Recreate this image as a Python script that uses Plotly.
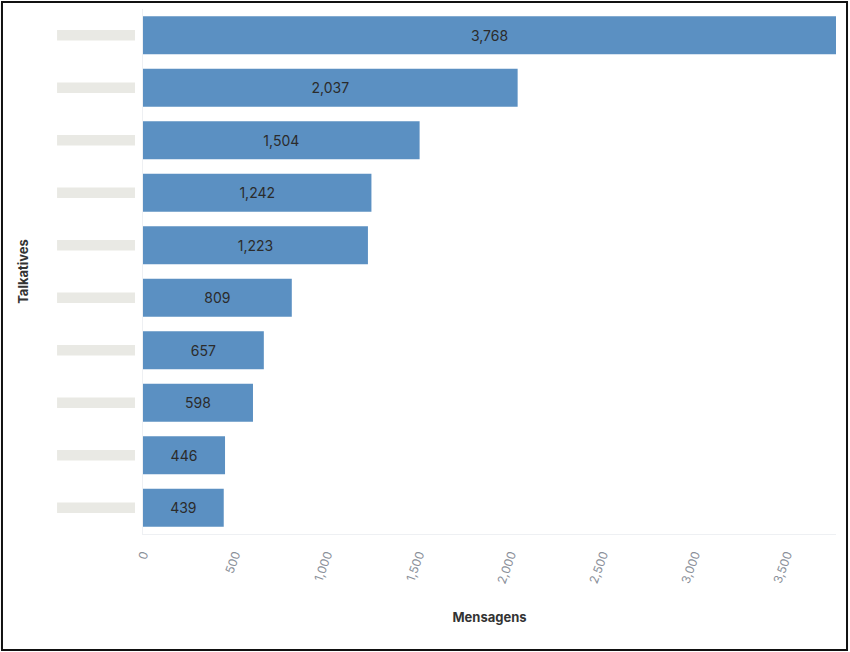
import plotly.graph_objects as go

users = ["Usuário A", "Usuário B", "Usuário C", "Usuário D", "Usuário E",
         "Usuário F", "Usuário G", "Usuário H", "Usuário I", "Usuário J"]
messages = [3768, 2037, 1504, 1242, 1223, 809, 657, 598, 446, 439]
x_ticks = [0, 500, 1000, 1500, 2000, 2500, 3000, 3500]
x_tick_labels = ["0", "500", "1,000", "1,500", "2,000", "2,500", "3,000", "3,500"]

fig = go.Figure(go.Bar(
    y=users, x=messages, orientation="h",
    marker=dict(color="#5b90c2", line=dict(width=0)),
    text=messages, texttemplate="%{x:,}", textposition="inside",
    insidetextanchor="middle",
    textfont=dict(family="Inter", size=14, color="#2b2b2b"),
))

# redacted label placeholders (one per category)
shapes = []
for i, u in enumerate(users):
    shapes.append(dict(type="rect", xref="paper", yref="y",
                       x0=-0.124, x1=-0.0115, y0=i - 0.1, y1=i + 0.1,
                       fillcolor="#e9e9e4", line=dict(width=0), layer="above"))
# outer black frame
shapes.append(dict(type="rect", xref="paper", yref="paper",
                   x0=-0.2035, x1=1.0159, y0=-0.221, y1=1.0133,
                   line=dict(color="#111111", width=2)))

fig.update_layout(
    width=850, height=652,
    margin=dict(l=143, r=14, t=9, b=118),
    paper_bgcolor="white", plot_bgcolor="white",
    bargap=0.28,
    showlegend=False,
    shapes=shapes,
    font=dict(family="Inter", color="#333"),
    xaxis=dict(range=[0, 3768], tickvals=x_ticks, ticktext=x_tick_labels,
               tickangle=-70, tickfont=dict(size=12, color="#8a8f99"),
               ticklabelstandoff=8,
               showgrid=False, zeroline=False, showline=True,
               linecolor="#eef0f3", linewidth=1, ticks="",
               title=dict(text="<b>Mensagens</b>", font=dict(size=13, color="#333"),
                          standoff=28),
               automargin=False),
    yaxis=dict(autorange="reversed", showticklabels=False, showgrid=False,
               zeroline=False, showline=True, linecolor="#eef0f3", linewidth=1,
               ticks="",
               title=dict(text="<b>Talkatives</b>", font=dict(size=13, color="#333"),
                          standoff=110),
               automargin=False),
)

fig.write_html("out.html", config={"displayModeBar": False},
               post_script="document.body.style.margin='0';document.body.style.overflow='hidden';")
